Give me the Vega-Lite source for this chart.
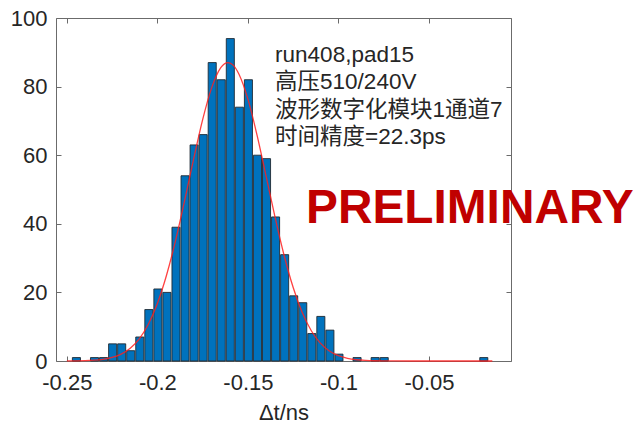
{
  "$schema": "https://vega.github.io/schema/vega-lite/v6.json",
  "autosize": {"type": "none"},
  "padding": {"left": 56, "top": 18, "right": 127, "bottom": 65},
  "width": 455,
  "height": 343,
  "background": "white",
  "config": {
    "view": {"stroke": null},
    "axis": {
      "labelFont": "Liberation Sans",
      "labelFontSize": 22,
      "labelColor": "#262626",
      "titleFont": "Liberation Sans",
      "titleFontSize": 22,
      "titleFontWeight": "normal",
      "titleColor": "#262626",
      "domainColor": "#6b6b6b",
      "tickColor": "#6b6b6b",
      "grid": false
    }
  },
  "datasets": {
    "bars": [
      {"lo": -0.2475, "hi": -0.2425, "count": 1},
      {"lo": -0.2375, "hi": -0.2325, "count": 1},
      {"lo": -0.2325, "hi": -0.2275, "count": 1},
      {"lo": -0.2275, "hi": -0.2225, "count": 5},
      {"lo": -0.2225, "hi": -0.2175, "count": 5},
      {"lo": -0.2175, "hi": -0.2125, "count": 3},
      {"lo": -0.2125, "hi": -0.2075, "count": 7},
      {"lo": -0.2075, "hi": -0.2025, "count": 15},
      {"lo": -0.2025, "hi": -0.1975, "count": 21},
      {"lo": -0.1975, "hi": -0.1925, "count": 20},
      {"lo": -0.1925, "hi": -0.1875, "count": 39},
      {"lo": -0.1875, "hi": -0.1825, "count": 54},
      {"lo": -0.1825, "hi": -0.1775, "count": 63},
      {"lo": -0.1775, "hi": -0.1725, "count": 66},
      {"lo": -0.1725, "hi": -0.1675, "count": 87},
      {"lo": -0.1675, "hi": -0.1625, "count": 82},
      {"lo": -0.1625, "hi": -0.1575, "count": 94},
      {"lo": -0.1575, "hi": -0.1525, "count": 74},
      {"lo": -0.1525, "hi": -0.1475, "count": 82},
      {"lo": -0.1475, "hi": -0.1425, "count": 60},
      {"lo": -0.1425, "hi": -0.1375, "count": 59},
      {"lo": -0.1375, "hi": -0.1325, "count": 42},
      {"lo": -0.1325, "hi": -0.1275, "count": 31},
      {"lo": -0.1275, "hi": -0.1225, "count": 19},
      {"lo": -0.1225, "hi": -0.1175, "count": 17},
      {"lo": -0.1175, "hi": -0.1125, "count": 8},
      {"lo": -0.1125, "hi": -0.1075, "count": 13},
      {"lo": -0.1075, "hi": -0.1025, "count": 9},
      {"lo": -0.1025, "hi": -0.0975, "count": 2},
      {"lo": -0.0925, "hi": -0.0875, "count": 1},
      {"lo": -0.0825, "hi": -0.0775, "count": 1},
      {"lo": -0.0775, "hi": -0.0725, "count": 1},
      {"lo": -0.0225, "hi": -0.0175, "count": 1}
    ],
    "fit": [
      {"t": -0.25, "fit": 0.017},
      {"t": -0.245, "fit": 0.042},
      {"t": -0.24, "fit": 0.1},
      {"t": -0.235, "fit": 0.23},
      {"t": -0.23, "fit": 0.5},
      {"t": -0.225, "fit": 1.04},
      {"t": -0.22, "fit": 2.01},
      {"t": -0.215, "fit": 3.71},
      {"t": -0.21, "fit": 6.48},
      {"t": -0.205, "fit": 10.72},
      {"t": -0.2, "fit": 16.79},
      {"t": -0.195, "fit": 24.92},
      {"t": -0.19, "fit": 35.03},
      {"t": -0.185, "fit": 46.66},
      {"t": -0.18, "fit": 58.87},
      {"t": -0.175, "fit": 70.38},
      {"t": -0.17, "fit": 79.7},
      {"t": -0.1675, "fit": 83.1},
      {"t": -0.165, "fit": 85.5},
      {"t": -0.161, "fit": 87.0},
      {"t": -0.158, "fit": 86.2},
      {"t": -0.155, "fit": 83.68},
      {"t": -0.15, "fit": 76.33},
      {"t": -0.145, "fit": 65.95},
      {"t": -0.14, "fit": 53.99},
      {"t": -0.135, "fit": 41.87},
      {"t": -0.13, "fit": 30.76},
      {"t": -0.125, "fit": 21.42},
      {"t": -0.12, "fit": 14.12},
      {"t": -0.115, "fit": 8.82},
      {"t": -0.11, "fit": 5.22},
      {"t": -0.105, "fit": 2.93},
      {"t": -0.1, "fit": 1.55},
      {"t": -0.095, "fit": 0.78},
      {"t": -0.09, "fit": 0.37},
      {"t": -0.085, "fit": 0.17},
      {"t": -0.08, "fit": 0.07},
      {"t": -0.075, "fit": 0.03},
      {"t": -0.07, "fit": 0.01},
      {"t": -0.06, "fit": 0},
      {"t": -0.015, "fit": 0}
    ]
  },
  "resolve": {"axis": {"x": "independent", "y": "independent"}},
  "layer": [
    {
      "data": {"name": "bars"},
      "mark": {"type": "bar", "fill": "#0072BD", "stroke": "#1f2a33", "strokeWidth": 0.9, "opacity": 1},
      "encoding": {
        "x": {
          "field": "lo", "type": "quantitative", "bin": "binned",
          "scale": {"domain": [-0.256, -0.0047], "nice": false, "zero": false},
          "axis": {
            "orient": "bottom", "title": "Δt/ns", "titlePadding": 9,
            "values": [-0.25, -0.2, -0.15, -0.1, -0.05],
            "labelExpr": "'' + datum.value",
            "tickSize": -5, "labelPadding": 16, "labelFlush": false, "labelOverlap": false
          }
        },
        "x2": {"field": "hi"},
        "y": {
          "field": "count", "type": "quantitative",
          "scale": {"domain": [0, 100], "nice": false},
          "axis": {
            "orient": "left", "title": null,
            "values": [0, 20, 40, 60, 80, 100],
            "tickSize": -5, "labelPadding": 14, "labelFlush": false, "labelOverlap": false
          }
        }
      }
    },
    {
      "data": {"name": "fit"},
      "mark": {"type": "line", "color": "#ff2020", "strokeWidth": 1.3, "opacity": 0.85, "interpolate": "monotone"},
      "encoding": {
        "x": {
          "field": "t", "type": "quantitative",
          "axis": {"orient": "top", "title": null, "labels": false, "values": [-0.25, -0.2, -0.15, -0.1, -0.05], "tickSize": -5}
        },
        "y": {
          "field": "fit", "type": "quantitative",
          "axis": {"orient": "right", "title": null, "labels": false, "values": [0, 20, 40, 60, 80, 100], "tickSize": -5}
        }
      }
    },
    {
      "data": {"values": [{"note": "info"}]},
      "mark": {
        "type": "text",
        "text": ["run408,pad15", "高压510/240V", "波形数字化模块1通道7", "时间精度=22.3ps"],
        "font": "Liberation Sans, Noto Sans CJK SC",
        "fontSize": 22.5,
        "color": "#262626",
        "align": "left",
        "baseline": "alphabetic",
        "lineHeight": 27.5
      },
      "encoding": {
        "x": {"datum": -0.135, "type": "quantitative", "axis": null},
        "y": {"datum": 87.3, "type": "quantitative", "axis": null}
      }
    },
    {
      "data": {"values": [{"note": "stamp"}]},
      "mark": {
        "type": "text",
        "text": "PRELIMINARY",
        "font": "Liberation Sans",
        "fontSize": 47.8,
        "fontWeight": "bold",
        "color": "#C00000",
        "align": "left",
        "baseline": "alphabetic"
      },
      "encoding": {
        "x": {"datum": -0.1179, "type": "quantitative", "axis": null},
        "y": {"datum": 40.2, "type": "quantitative", "axis": null}
      }
    }
  ]
}
